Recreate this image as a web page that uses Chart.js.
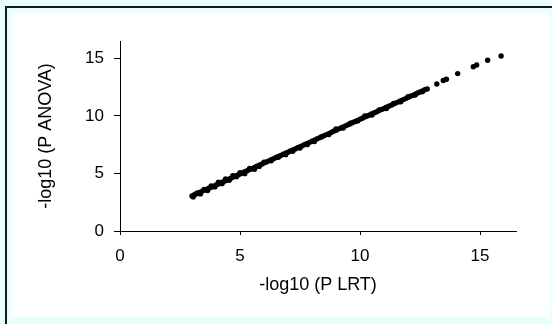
<!DOCTYPE html>
<html lang="en">
<head>
<meta charset="UTF-8">
<title>-log10 P ANOVA vs -log10 P LRT</title>
<script src="https://cdn.jsdelivr.net/npm/chart.js"></script>
<style>
  html, body { margin: 0; padding: 0; }
  body { width: 552px; height: 324px; background: #e8ffff; position: relative; overflow: hidden; }
  #frame { position: absolute; left: 5px; top: 6px; right: 0; bottom: 0; border-left: 2px solid #1a1a1a; border-top: 2px solid #1a1a1a; }
  #panel { position: absolute; left: 12px; top: 13px; width: 538px; height: 304px; background: #fff; }
  #chart { position: absolute; left: 0; top: 0; }
</style>
</head>
<body>
<div id="frame"></div>
<div id="panel"></div>
<canvas id="chart" width="552" height="324"></canvas>

<script>
// -log10(P LRT) on x, -log10(P ANOVA) on y
const lrt = [
  3.0, 3.1, 3.2, 3.3, 3.4, 3.5, 3.6, 3.7, 3.8, 3.9,
  4.0, 4.1, 4.2, 4.3, 4.4, 4.5, 4.6, 4.7, 4.8, 4.9,
  5.0, 5.1, 5.2, 5.3, 5.4, 5.5, 5.6, 5.7, 5.8, 5.9,
  6.0, 6.1, 6.2, 6.3, 6.4, 6.5, 6.6, 6.7, 6.8, 6.9,
  7.0, 7.1, 7.2, 7.3, 7.4, 7.5, 7.6, 7.7, 7.8, 7.9,
  8.0, 8.1, 8.2, 8.3, 8.4, 8.5, 8.6, 8.7, 8.8, 8.9,
  9.0, 9.1, 9.2, 9.3, 9.4, 9.5, 9.6, 9.7, 9.8, 9.9,
  10.0, 10.1, 10.2, 10.3, 10.4, 10.5, 10.6, 10.7, 10.8, 10.9,
  11.0, 11.1, 11.2, 11.3, 11.4, 11.5, 11.6, 11.7, 11.8, 11.9,
  12.0, 12.1, 12.2, 12.3, 12.4, 12.5, 12.6, 12.7, 12.8,
  13.2, 13.47, 13.6, 14.07, 14.72, 14.86, 15.32, 15.88
];
const anova = [
  3.05, 3.15, 3.23, 3.35, 3.42, 3.53, 3.61, 3.72, 3.80, 3.90,
  4.00, 4.08, 4.19, 4.28, 4.37, 4.48, 4.56, 4.66, 4.77, 4.85,
  4.95, 5.04, 5.14, 5.24, 5.33, 5.41, 5.52, 5.62, 5.71, 5.80,
  5.90, 5.99, 6.09, 6.19, 6.27, 6.38, 6.47, 6.56, 6.66, 6.76,
  6.84, 6.95, 7.04, 7.13, 7.23, 7.33, 7.41, 7.52, 7.61, 7.70,
  7.80, 7.89, 7.99, 8.09, 8.17, 8.28, 8.37, 8.46, 8.56, 8.66,
  8.74, 8.85, 8.94, 9.03, 9.13, 9.23, 9.31, 9.42, 9.51, 9.60,
  9.70, 9.79, 9.89, 9.99, 10.07, 10.18, 10.27, 10.36, 10.46, 10.56,
  10.64, 10.75, 10.84, 10.93, 11.03, 11.13, 11.21, 11.32, 11.41, 11.50,
  11.60, 11.70, 11.78, 11.89, 11.98, 12.07, 12.17, 12.27, 12.33,
  12.77, 13.07, 13.18, 13.67, 14.27, 14.42, 14.83, 15.20
];
// second row of the cloud, a little off the main run (thicker at the low end)
const lrtSpread = [
  3.05, 3.2, 3.35, 3.5, 3.65, 3.8, 3.95, 4.1, 4.25, 4.4, 4.55, 4.7, 4.85,
  5.0, 5.2, 5.4, 5.6, 5.8, 6.0, 6.3, 6.6, 6.9, 7.2, 7.5, 7.8, 8.1, 8.4,
  8.7, 9.0, 9.3, 9.6, 9.9, 10.2, 10.5, 10.8, 11.1, 11.4, 11.7, 12.0, 12.3, 12.6
];
const anovaSpread = [
  2.96, 3.28, 3.22, 3.60, 3.52, 3.92, 3.83, 4.23, 4.11, 4.53, 4.41, 4.80, 4.72,
  5.07, 4.98, 5.43, 5.36, 5.61, 5.98, 6.09, 6.40, 6.63, 6.92, 7.21, 7.50, 7.77, 8.20,
  8.38, 8.87, 8.95, 9.37, 9.56, 9.99, 10.08, 10.52, 10.63, 11.08, 11.22, 11.66, 11.81, 12.10
];

const xTicks = [0, 5, 10, 15];
const yTicks = [0, 5, 10, 15];

const pts = lrt.map((x, i) => ({ x: x, y: anova[i] }))
  .concat(lrtSpread.map((x, i) => ({ x: x, y: anovaSpread[i] })));

const fam = '"Liberation Sans", Arial, sans-serif';

new Chart(document.getElementById('chart'), {
  type: 'scatter',
  data: {
    datasets: [{
      data: pts,
      backgroundColor: '#000',
      borderWidth: 0,
      pointRadius: 2.7,
      pointHoverRadius: 2.7
    }]
  },
  options: {
    responsive: false,
    devicePixelRatio: 1,
    animation: false,
    events: [],
    layout: { padding: { left: 25, top: 41, right: 36, bottom: 20 } },
    plugins: { legend: { display: false }, tooltip: { enabled: false } },
    scales: {
      x: {
        type: 'linear', min: 0, max: 16.5,
        afterFit: s => { s.height = 73; },
        afterBuildTicks: s => { s.ticks = xTicks.map(v => ({ value: v })); },
        border: { display: true, color: '#000', width: 1 },
        grid: { drawOnChartArea: false, drawTicks: true, tickLength: 4, color: '#000' },
        ticks: { padding: 11, color: '#000', maxRotation: 0, font: { family: fam, size: 17 } },
        title: { display: true, text: '-log10 (P LRT)', color: '#000',
                 font: { family: fam, size: 18 }, padding: { top: 0, bottom: 8 } }
      },
      y: {
        type: 'linear', min: 0, max: 16.5,
        afterFit: s => { s.width = 95; },
        afterBuildTicks: s => { s.ticks = yTicks.map(v => ({ value: v })); },
        border: { display: true, color: '#000', width: 1 },
        grid: { drawOnChartArea: false, drawTicks: true, tickLength: 6, color: '#000' },
        ticks: { padding: 10, color: '#000', font: { family: fam, size: 17 } },
        title: { display: true, text: '-log10 (P ANOVA)', color: '#000',
                 font: { family: fam, size: 18 }, padding: { top: 10, bottom: 0 } }
      }
    }
  }
});
</script>
</body>
</html>
